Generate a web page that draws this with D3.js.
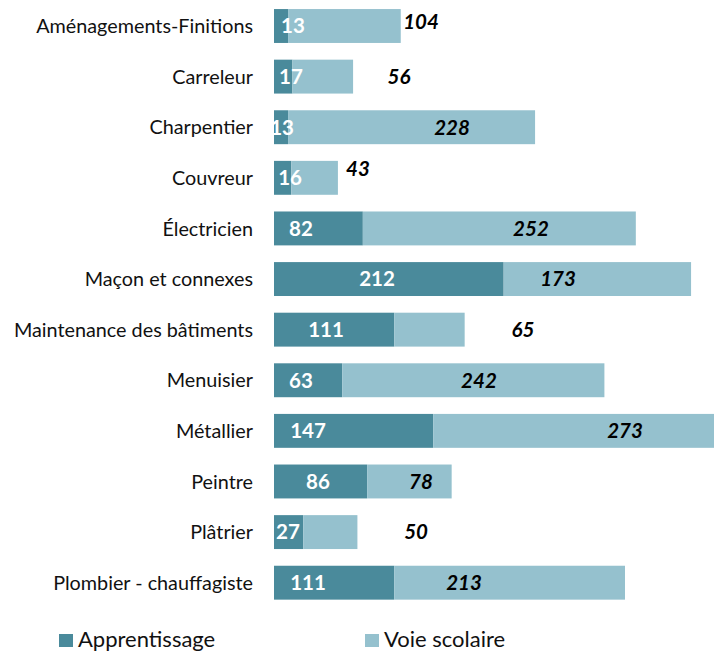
<!DOCTYPE html>
<html>
<head>
<meta charset="utf-8">
<script src="https://cdn.jsdelivr.net/npm/d3@7"></script>
<style>
  html, body { margin: 0; padding: 0; background: #fff; overflow: hidden; }
  svg { display: block; }
</style>
</head>
<body>
<svg id="chart" width="714" height="653"></svg>
<script>
// ---- data ----
const categories = [
  "Aménagements-Finitions", "Carreleur", "Charpentier", "Couvreur",
  "Électricien", "Maçon et connexes", "Maintenance des bâtiments",
  "Menuisier", "Métallier", "Peintre", "Plâtrier", "Plombier - chauffagiste"
];
const apprentissage = [13, 17, 13, 16, 82, 212, 111, 63, 147, 86, 27, 111];
const voieScolaire  = [104, 56, 228, 43, 252, 173, 65, 242, 273, 78, 50, 213];
const seriesNames = ["Apprentissage", "Voie scolaire"];
// label anchors as drawn in the source chart (in value units)
const apprLabelAt = [17.5, 15.7, 7.4, 14.8, 24.9, 95.1, 48, 24.9, 31.4, 40.6, 12.9, 31.4];
const voieLabelAt = [135.7, 115.4, 164.3, 77.5, 237.2, 262.2, 229.8, 189.2, 324, 135.7, 131.1, 175.4];
const voieLabelRaise = [4, 0, 0, 9, 0, 0, 0, 0, 0, 0, 0, 0];

// ---- layout ----
const colors = { appr: "#4a8a9b", voie: "#95c1ce" };
const svg = d3.select("#chart");
const x = d3.scaleLinear().domain([0, 400]).range([274, 274 + 400 * 1.0833]);
const y = d3.scaleBand().domain(categories).range([0.7, 608])
  .paddingInner(0.33).paddingOuter(0.165);

const rows = categories.map((c, i) => ({
  cat: c, a: apprentissage[i], v: voieScolaire[i],
  al: apprLabelAt[i], vl: voieLabelAt[i], vr: voieLabelRaise[i]
}));

const g = svg.append("g");

// bars
g.selectAll("rect.appr").data(rows).join("rect")
  .attr("class", "appr")
  .attr("x", x(0)).attr("y", d => y(d.cat))
  .attr("width", d => x(d.a) - x(0)).attr("height", y.bandwidth())
  .attr("fill", colors.appr);

g.selectAll("rect.voie").data(rows).join("rect")
  .attr("class", "voie")
  .attr("x", d => x(d.a)).attr("y", d => y(d.cat))
  .attr("width", d => x(d.a + d.v) - x(d.a)).attr("height", y.bandwidth())
  .attr("fill", colors.voie);

// category labels
const font = "Lato, 'Open Sans', sans-serif";
g.selectAll("text.cat").data(rows).join("text")
  .attr("class", "cat")
  .attr("x", 253).attr("y", d => y(d.cat) + y.bandwidth() / 2)
  .attr("dy", "0.36em")
  .attr("text-anchor", "end")
  .style("font-family", font).style("font-size", "19.8px").attr("fill", "#111")
  .text(d => d.cat);

// value labels
g.selectAll("text.al").data(rows).join("text")
  .attr("class", "al")
  .attr("x", d => x(d.al)).attr("y", d => y(d.cat) + y.bandwidth() / 2)
  .attr("dy", "0.36em").attr("text-anchor", "middle")
  .style("font-family", font).style("font-size", "20.5px").style("font-weight", "bold")
  .attr("fill", "#fff")
  .text(d => d.a);

g.selectAll("text.vl").data(rows).join("text")
  .attr("class", "vl")
  .attr("x", d => x(d.vl)).attr("y", d => y(d.cat) + y.bandwidth() / 2 - d.vr)
  .attr("dy", "0.36em").attr("text-anchor", "middle")
  .style("font-family", font).style("font-size", "20.5px").style("font-weight", "bold")
  .style("font-style", "italic")
  .attr("fill", "#000")
  .text(d => d.v);

// legend
const legend = svg.append("g");
const legItems = [
  { name: seriesNames[0], color: colors.appr, x: 59 },
  { name: seriesNames[1], color: colors.voie, x: 365 }
];
const lg = legend.selectAll("g").data(legItems).join("g")
  .attr("transform", d => `translate(${d.x},0)`);
lg.append("rect").attr("x", 0).attr("y", 634).attr("width", 14).attr("height", 13)
  .attr("fill", d => d.color);
lg.append("text").attr("x", 19).attr("y", 647)
  .style("font-family", font).style("font-size", "22px").attr("fill", "#111")
  .text(d => d.name);
</script>
</body>
</html>
